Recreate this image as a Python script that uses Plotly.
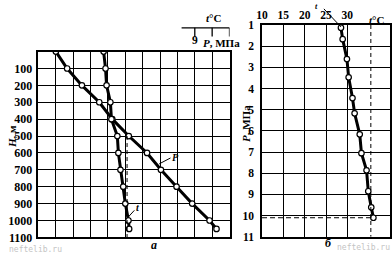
import plotly.graph_objects as go

# ---------------- data ----------------
# chart a: depth profile
H_m = [0, 100, 200, 300, 400, 500, 600, 700, 800, 900, 1000, 1050]
t_left_C = [28.75, 29.3, 29.6, 30.7, 31.0, 32.7, 33.0, 33.6, 34.4, 35.0, 35.9, 36.1]
P_left_MPa = [1.0, 1.65, 2.5, 3.5, 4.25, 5.2, 6.25, 7.05, 7.95, 8.85, 9.85, 10.25]
H_ticks = [0, 100, 200, 300, 400, 500, 600, 700, 800, 900, 1000, 1100]
P_grid_left = list(range(0, 12))

# chart б: temperature vs pressure
P_right_MPa = [1.13, 1.67, 2.61, 3.47, 4.45, 5.17, 6.16, 7.05, 7.86, 8.85, 9.61, 10.1]
t_right_C = [28.5, 28.9, 29.9, 30.3, 31.2, 31.7, 32.9, 33.3, 34.5, 34.9, 35.6, 36.1]
t_ticks_right = [10, 15, 20, 25, 30]
P_ticks_right = [1, 2, 3, 4, 5, 6, 7, 8, 9, 10, 11]

W, Hh = 392, 259
def px(x):
    return x / W
def py(y):
    return 1 - y / Hh

SERIF = "Liberation Serif"
tf = dict(family=SERIF, size=12, color="black", weight="bold")
tf2 = dict(family=SERIF, size=11.5, color="black", weight="bold")

fig = go.Figure()

mk = dict(symbol="circle", size=5.5, color="white", line=dict(color="black", width=1.2))

fig.add_trace(go.Scatter(x=P_left_MPa, y=H_m, xaxis="x", yaxis="y", mode="lines+markers",
                         line=dict(color="black", width=3), marker=mk, showlegend=False))
fig.add_trace(go.Scatter(x=t_left_C, y=H_m, xaxis="x3", yaxis="y", mode="lines+markers",
                         line=dict(color="black", width=3), marker=mk, showlegend=False))
fig.add_trace(go.Scatter(x=t_right_C, y=P_right_MPa, xaxis="x2", yaxis="y2", mode="lines+markers",
                         line=dict(color="black", width=3), marker=mk, showlegend=False))

grid = dict(showgrid=True, gridcolor="black", gridwidth=1, zeroline=False,
            showline=True, linecolor="black", linewidth=1.5, mirror=True, ticks="")

fig.update_layout(
    width=W, height=Hh, margin=dict(l=0, r=0, t=0, b=0),
    paper_bgcolor="white", plot_bgcolor="white",
    xaxis=dict(domain=[px(33), px(227)], range=[0, 11], side="top",
               tickvals=P_grid_left,
               ticktext=["" if v != 9 else "9" for v in P_grid_left],
               tickfont=tf2, ticklabelstandoff=1, anchor="y", **grid),
    xaxis3=dict(overlaying="x", range=[10, 65], visible=False, anchor="y"),
    yaxis=dict(domain=[py(243.6), py(48)], range=[1100, 0], tickvals=H_ticks,
               ticktext=["" if v == 0 else str(v) for v in H_ticks],
               tickfont=tf, ticklabelstandoff=2, anchor="x", **grid),
    xaxis2=dict(domain=[px(260), px(390)], range=[10, 40], side="top",
                tickvals=t_ticks_right, ticktext=[str(v) for v in t_ticks_right],
                tickfont=tf2, ticklabelstandoff=0, anchor="y2", **grid),
    yaxis2=dict(domain=[py(243), py(20)], range=[11, 1], tickvals=P_ticks_right,
                ticktext=[str(v) for v in P_ticks_right],
                tickfont=tf2, ticklabelstandoff=4, anchor="x2", **grid),
)

shapes = []
# left t-axis fragment at top
y_t = py(23)
shapes.append(dict(type="line", xref="x3", yref="paper", x0=51.2, x1=65, y0=y_t, y1=y_t,
                   line=dict(color="black", width=1.3)))
for tv in [55, 60, 65]:
    shapes.append(dict(type="line", xref="x3", yref="paper", x0=tv, x1=tv, y0=y_t, y1=py(32),
                       line=dict(color="black", width=1.3)))
# left dashed construction line from P-point at H=500
shapes.append(dict(type="line", xref="x", yref="y", x0=P_left_MPa[5] - 0.1, x1=P_left_MPa[5] - 0.1,
                   y0=H_m[5], y1=1100, line=dict(color="black", width=1, dash="4px,3px")))
# right dashed lines
shapes.append(dict(type="line", xref="x2", yref="y2", x0=35.5, x1=35.5, y0=1, y1=11,
                   line=dict(color="black", width=1, dash="4px,3px")))
shapes.append(dict(type="line", xref="x2", yref="y2", x0=10, x1=t_right_C[-1], y0=P_right_MPa[-1],
                   y1=P_right_MPa[-1], line=dict(color="black", width=1, dash="5px,3px")))
# leaders
shapes.append(dict(type="line", xref="x", yref="y", x0=6.95, x1=7.6, y0=665, y1=630,
                   line=dict(color="black", width=1)))
shapes.append(dict(type="line", xref="x3", yref="y", x0=35.6, x1=37.6, y0=985, y1=940,
                   line=dict(color="black", width=1)))
shapes.append(dict(type="line", xref="x2", yref="paper", x0=t_right_C[0], x1=24.5,
                   y0=py(22), y1=py(3), line=dict(color="black", width=1)))
fig.update_layout(shapes=shapes)

ann = []
def A(x, y, text, size=11, italic=False, bold=True, angle=0, color="black", xanchor="center", family=SERIF):
    ann.append(dict(x=px(x), y=py(y), xref="paper", yref="paper", text=text, showarrow=False,
                    xanchor=xanchor, yanchor="middle", textangle=angle,
                    font=dict(family=family, size=size, color=color,
                              style="italic" if italic else "normal",
                              weight="bold" if bold else "normal")))

A(211, 13, "<i>t</i>°C", size=11)
A(198, 39, "<i>P</i>, МПа", size=11, xanchor="left")
A(376, 15, "<i>t</i>°C", size=11)
A(6, 137, "<i>H</i>, м", size=11, angle=-90)
A(244, 124, "<i>P</i>, МПа", size=11, angle=-90)
A(172, 159, "<i>P</i>", size=10, italic=True)
A(134, 212, "<i>t</i>", size=10, italic=True)
A(315, 1, "<i>t</i>", size=8, italic=True)
A(150, 252, "<i>а</i>", size=12)
A(328, 250, "<i>б</i>", size=12)
A(1, 256.5, "neftelib.ru", size=8, bold=False, color="#c4c4c4", xanchor="left", family="DejaVu Sans Mono")
A(392, 254, "neftelib.ru", size=8, bold=False, color="#c4c4c4", xanchor="right", family="DejaVu Sans Mono")
fig.update_layout(annotations=ann)

fig.write_html("out.html")
